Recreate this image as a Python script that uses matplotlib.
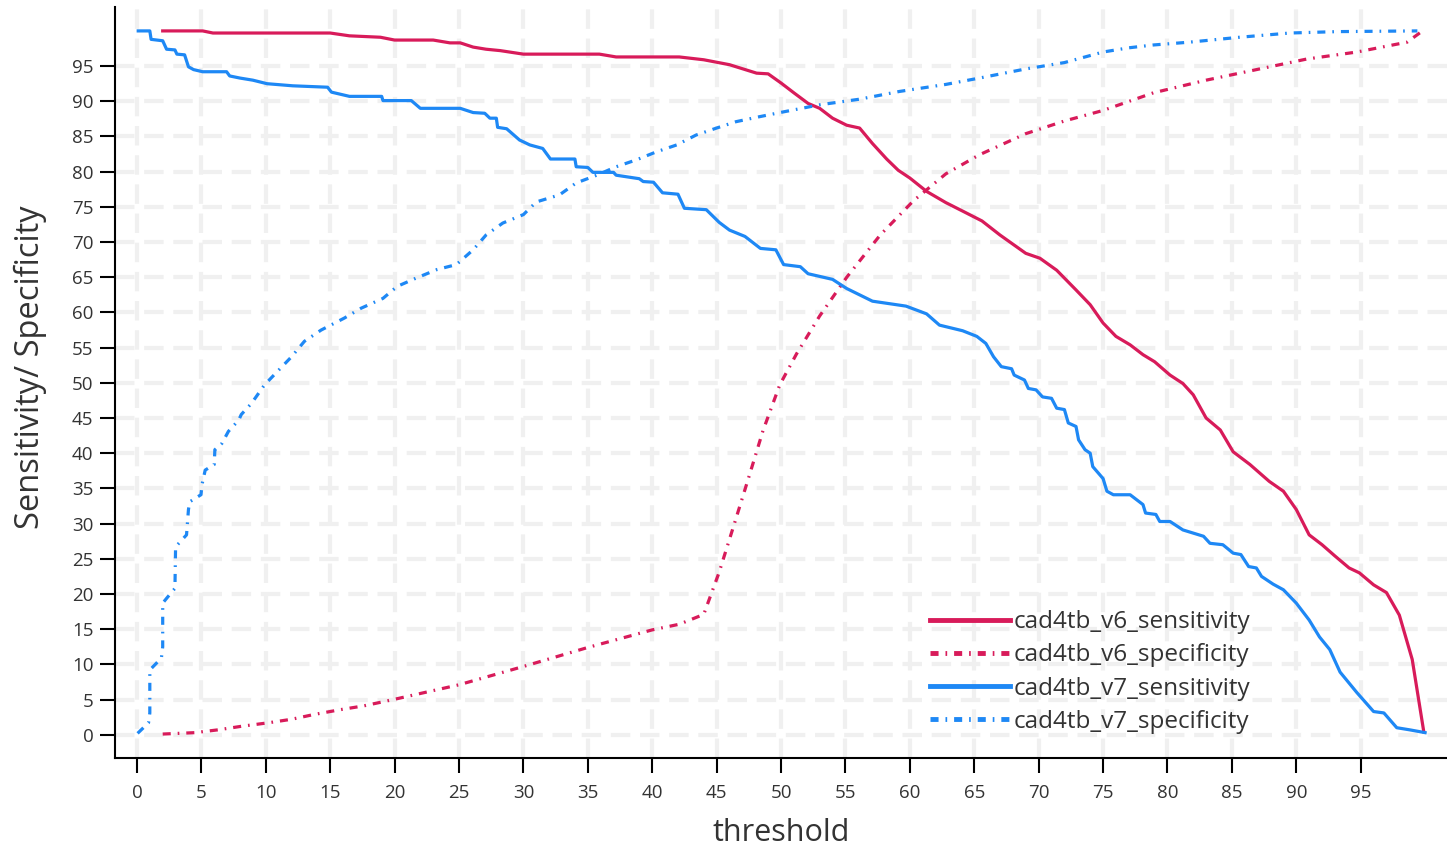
import matplotlib
matplotlib.use("Agg")
import matplotlib.pyplot as plt

# colours / names
RED = '#d81b5a'
BLUE = '#1e88f5'

v6_sens_x = [2.0, 5.1, 5.9, 15.0, 16.5, 18.9, 20.0, 23.0, 24.3, 25.1, 26.1, 27.1, 28.2, 30.0, 35.9, 37.2,
             42.1, 44.0, 46.0, 48.1, 49.0, 50.0, 51.0, 52.1, 53.0, 54.0, 55.1, 56.1, 57.1, 58.2, 59.1, 60.0,
             61.3, 62.8, 64.1, 65.6, 67.0, 69.0, 70.1, 71.4, 72.9, 74.0, 75.0, 76.0, 77.1, 78.1, 79.0, 80.2,
             81.2, 82.0, 83.0, 84.1, 85.1, 86.4, 87.9, 89.0, 90.0, 91.0, 92.0, 93.0, 94.1, 94.9, 96.0, 97.0,
             98.0, 99.0, 99.9]
v6_sens_y = [100.0, 100.0, 99.7, 99.7, 99.3, 99.1, 98.7, 98.7, 98.3, 98.3, 97.7, 97.4, 97.2, 96.7, 96.7, 96.3,
             96.3, 95.9, 95.2, 94.0, 93.9, 92.6, 91.2, 89.7, 89.0, 87.6, 86.6, 86.2, 84.0, 81.8, 80.2, 79.1,
             77.2, 75.6, 74.4, 73.0, 71.0, 68.4, 67.7, 66.0, 63.2, 61.1, 58.5, 56.6, 55.4, 54.0, 53.0, 51.1,
             49.9, 48.3, 45.0, 43.3, 40.2, 38.4, 36.0, 34.6, 32.0, 28.4, 27.0, 25.4, 23.7, 23.0, 21.3, 20.2,
             17.0, 10.7, 0.4]

v6_spec_x = [2.0, 4.5, 6.3, 8.1, 10.2, 12.0, 13.8, 15.9, 17.6, 19.9, 25.0, 30.0, 35.0, 40.0, 42.1, 44.0,
             45.2, 46.5, 47.6, 48.6, 49.9, 51.2, 53.0, 55.1, 57.7, 60.3, 62.8, 65.4, 69.0, 72.0, 75.0, 78.9,
             83.0, 86.9, 90.8, 94.7, 98.6, 99.8]
v6_spec_y = [0.1, 0.3, 0.7, 1.2, 1.7, 2.2, 2.9, 3.6, 4.1, 5.0, 7.1, 9.7, 12.4, 14.9, 15.7, 17.1,
             23.1, 30.7, 37.2, 43.2, 49.7, 54.1, 59.5, 65.0, 71.0, 75.9, 79.7, 82.4, 85.4, 87.2, 88.7, 91.2,
             93.0, 94.5, 96.0, 97.0, 98.4, 100.0]

v7_sens_x = [0.1, 1.0, 1.1, 2.0, 2.3, 2.95, 3.1, 3.7, 4.0, 4.4, 5.1, 6.96, 7.2, 8.0, 9.0, 10.1, 12.1, 14.8,
             15.1, 16.5, 19.0, 19.1, 21.3, 22.0, 25.1, 26.1, 27.0, 27.4, 27.9, 28.0, 28.7, 29.7, 30.5, 31.5,
             32.1, 34.0, 34.1, 35.0, 35.4, 37.0, 37.2, 39.0, 39.3, 40.1, 40.8, 42.0, 42.5, 44.2, 45.2, 46.0,
             47.2, 48.4, 49.6, 50.2, 51.5, 52.1, 54.0, 55.1, 57.1, 59.7, 61.3, 62.3, 64.1, 65.2, 65.9, 66.5,
             67.1, 67.9, 68.1, 68.9, 69.2, 69.8, 70.3, 71.0, 71.4, 72.0, 72.3, 72.9, 73.1, 73.6, 74.0, 74.2,
             75.0, 75.3, 75.8, 77.1, 78.1, 78.3, 79.1, 79.4, 80.2, 81.2, 82.8, 83.3, 84.3, 85.1, 85.7, 86.3,
             86.9, 87.3, 88.2, 89.0, 90.0, 91.0, 91.8, 92.6, 93.4, 94.7, 96.0, 96.8, 97.8, 98.8, 100.0]
v7_sens_y = [100.0, 100.0, 98.8, 98.6, 97.4, 97.3, 96.7, 96.6, 94.9, 94.5, 94.2, 94.2, 93.6, 93.3, 93.0, 92.5,
             92.2, 92.0, 91.3, 90.7, 90.7, 90.1, 90.1, 89.0, 89.0, 88.4, 88.3, 87.6, 87.6, 86.3, 86.1, 84.5,
             83.8, 83.3, 81.8, 81.8, 80.7, 80.6, 79.9, 79.9, 79.5, 79.0, 78.6, 78.5, 77.0, 76.8, 74.8, 74.6,
             72.8, 71.7, 70.8, 69.1, 68.9, 66.8, 66.5, 65.5, 64.7, 63.4, 61.6, 60.9, 59.8, 58.2, 57.4, 56.6,
             55.6, 53.7, 52.3, 52.0, 51.1, 50.4, 49.2, 49.0, 48.0, 47.8, 46.4, 46.2, 44.3, 43.8, 41.9, 40.5,
             40.0, 38.1, 36.4, 34.6, 34.1, 34.1, 32.7, 31.5, 31.3, 30.3, 30.3, 29.1, 28.2, 27.2, 27.0, 25.8,
             25.6, 23.9, 23.7, 22.5, 21.4, 20.6, 18.7, 16.3, 13.9, 12.1, 8.9, 6.0, 3.3, 3.1, 1.0, 0.7, 0.3]

v7_spec_x = [0.05, 0.9, 1.0, 1.0, 1.9, 2.0, 2.0, 2.4, 2.95, 3.0, 3.5, 3.85, 4.0, 4.1, 4.97, 5.07, 5.3, 6.0,
             6.05, 6.6, 7.1, 7.9, 8.1, 8.9, 9.9, 11.0, 12.0, 13.0, 14.3, 16.1, 17.4, 19.1, 20.2, 21.7, 23.3,
             24.8, 26.1, 27.1, 28.4, 30.0, 31.0, 32.8, 34.1, 35.7, 37.2, 38.8, 40.3, 41.9, 43.4, 45.0, 46.5,
             48.3, 50.2, 53.0, 56.1, 59.2, 62.8, 65.4, 69.0, 72.0, 75.0, 77.0, 78.9, 81.7, 85.6, 89.5, 93.2,
             99.4]
v7_spec_y = [0.2, 1.7, 3.1, 9.2, 10.9, 12.5, 18.7, 19.6, 20.8, 26.7, 27.7, 28.4, 32.0, 33.1, 34.1, 35.7, 37.6,
             38.4, 40.5, 41.4, 43.1, 44.7, 45.5, 47.1, 49.7, 51.8, 53.7, 55.9, 57.5, 59.2, 60.6, 62.0, 63.7,
             64.9, 66.1, 66.8, 68.9, 71.0, 72.7, 73.9, 75.7, 76.7, 78.4, 79.5, 80.7, 81.7, 82.8, 83.8, 85.2,
             86.2, 87.1, 87.8, 88.5, 89.5, 90.3, 91.4, 92.4, 93.3, 94.6, 95.5, 97.0, 97.6, 98.0, 98.4, 99.1,
             99.7, 99.9, 100.0]

labels = ['cad4tb_v6_sensitivity', 'cad4tb_v6_specificity',
          'cad4tb_v7_sensitivity', 'cad4tb_v7_specificity']
ticks = list(range(0, 100, 5))

plt.rcParams['font.family'] = ['Open Sans', 'DejaVu Sans']
plt.rcParams['lines.scale_dashes'] = False

dashdot = (0, (5.8, 5.0, 1.2, 5.0))

fig = plt.figure(figsize=(14.47, 8.51), dpi=100)
ax = fig.add_axes([0.0795, 0.1093, 0.9205, 0.8825])

ax.plot(v6_sens_x, v6_sens_y, color=RED, lw=2.3, label=labels[0])
ax.plot(v6_spec_x, v6_spec_y, color=RED, lw=2.3, linestyle=dashdot, label=labels[1])
ax.plot(v7_sens_x, v7_sens_y, color=BLUE, lw=2.3, label=labels[2])
ax.plot(v7_spec_x, v7_spec_y, color=BLUE, lw=2.3, linestyle=dashdot, label=labels[3])

ax.set_xlim(-1.7, 101.7)
ax.set_ylim(-3.3, 103.4)
ax.set_xticks(ticks)
ax.set_yticks(ticks)

ax.set_axisbelow(True)
ax.grid(True, color='#f0f0f0', lw=3, linestyle=(0, (14, 7)))

for s in ['top', 'right']:
    ax.spines[s].set_visible(False)
for s in ['left', 'bottom']:
    ax.spines[s].set_linewidth(1.5)
    ax.spines[s].set_color('black')

ax.tick_params(direction='out', length=10.5, width=1.5, color='black',
               labelsize=13.5, labelcolor='#333333')
ax.tick_params(axis='x', pad=8)
ax.tick_params(axis='y', pad=5)

ax.set_xlabel('threshold', fontsize=22, color='#333333', labelpad=12)
ax.set_ylabel('Sensitivity/ Specificity', fontsize=23.5, color='#333333')
ax.yaxis.set_label_coords(-0.051, 0.52)

leg = ax.legend(loc='lower left', bbox_to_anchor=(0.612, 0.032), frameon=False,
                fontsize=17.5, handlelength=3.3, handletextpad=0.12, labelspacing=0.38,
                borderpad=0, borderaxespad=0, labelcolor='#333333')
for h in leg.get_lines():
    h.set_linewidth(3.5)

fig.savefig('out.png', dpi=100)
